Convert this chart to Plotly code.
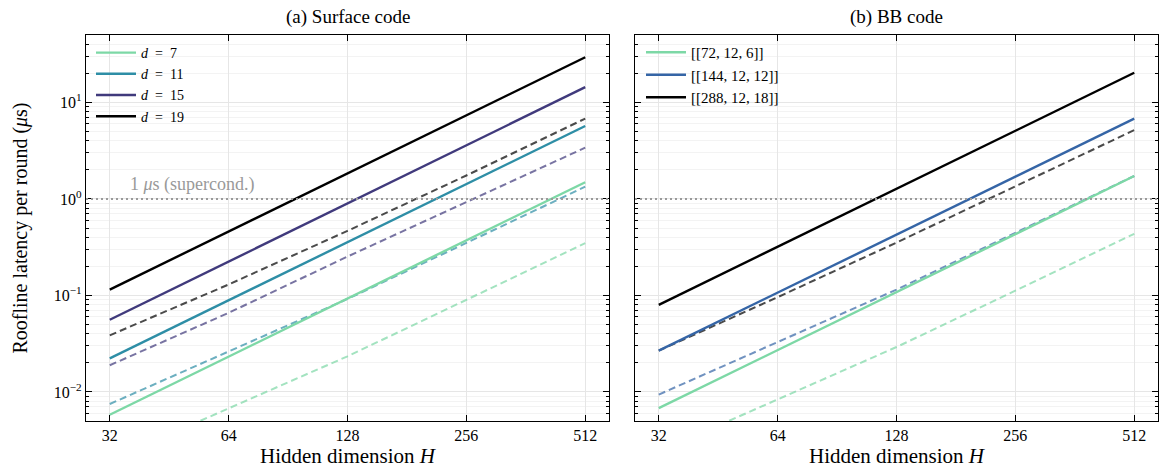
import math
import plotly.graph_objects as go

# ---------------- data ----------------
H = [32, 64, 128, 256, 512]

# (a) Surface code — solid: roofline latency (µs)
sc_labels = ["<i>d</i>\u2002=\u20027", "<i>d</i>\u2002=\u200211",
             "<i>d</i>\u2002=\u200215", "<i>d</i>\u2002=\u200219"]
sc_solid_d7 = [0.0058, 0.0233, 0.093, 0.372, 1.49]
sc_solid_d11 = [0.0223, 0.089, 0.356, 1.42, 5.7]
sc_solid_d15 = [0.056, 0.224, 0.90, 3.6, 14.4]
sc_solid_d19 = [0.115, 0.46, 1.84, 7.36, 29.4]
# dashed companions
sc_dash_d7 = [0.00195, 0.0068, 0.0234, 0.090, 0.348]
sc_dash_d11 = [0.0075, 0.0265, 0.092, 0.35, 1.34]
sc_dash_d15 = [0.0189, 0.066, 0.253, 0.93, 3.4]
sc_dash_d19 = [0.0386, 0.13, 0.467, 1.75, 6.8]

# (b) BB code
bb_labels = ["[[72, 12, 6]]", "[[144, 12, 12]]", "[[288, 12, 18]]"]
bb_solid_72 = [0.0068, 0.027, 0.108, 0.432, 1.73]
bb_solid_144 = [0.0268, 0.107, 0.43, 1.71, 6.8]
bb_solid_288 = [0.080, 0.32, 1.28, 5.1, 20.3]
bb_dash_72 = [0.0024, 0.0083, 0.0292, 0.112, 0.435]
bb_dash_144 = [0.0094, 0.033, 0.115, 0.445, 1.73]
bb_dash_288 = [0.0268, 0.096, 0.353, 1.35, 5.17]

threshold_us = 1.0
threshold_label = "1 <i>μ</i>s (supercond.)"

x_ticks = [32, 64, 128, 256, 512]
y_ticks = [0.01, 0.1, 1, 10]
y_ticktext = ["10<sup>−2</sup>", "10<sup>−1</sup>", "10<sup>0</sup>", "10<sup>1</sup>"]

# ---------------- style ----------------
FONT = "Liberation Serif"
sc_colors = ["#7dd8a6", "#2e8ea6", "#403a7c", "#000000"]
bb_colors = ["#7dd8a6", "#3565a6", "#000000"]
DASH_OPACITY = 0.7

fig = go.Figure()

sc_solid = [sc_solid_d7, sc_solid_d11, sc_solid_d15, sc_solid_d19]
sc_dash = [sc_dash_d7, sc_dash_d11, sc_dash_d15, sc_dash_d19]
for lab, col, ys in zip(sc_labels, sc_colors, sc_dash):
    fig.add_trace(go.Scatter(x=H, y=ys, mode="lines", xaxis="x", yaxis="y",
                             line=dict(color=col, width=2, dash="7px,4px"),
                             opacity=DASH_OPACITY, showlegend=False, hoverinfo="skip"))
for lab, col, ys in zip(sc_labels, sc_colors, sc_solid):
    fig.add_trace(go.Scatter(x=H, y=ys, mode="lines", name=lab, xaxis="x", yaxis="y",
                             line=dict(color=col, width=2.4), legend="legend"))

bb_solid = [bb_solid_72, bb_solid_144, bb_solid_288]
bb_dash = [bb_dash_72, bb_dash_144, bb_dash_288]
for lab, col, ys in zip(bb_labels, bb_colors, bb_dash):
    fig.add_trace(go.Scatter(x=H, y=ys, mode="lines", xaxis="x2", yaxis="y2",
                             line=dict(color=col, width=2, dash="7px,4px"),
                             opacity=DASH_OPACITY, showlegend=False, hoverinfo="skip"))
for lab, col, ys in zip(bb_labels, bb_colors, bb_solid):
    fig.add_trace(go.Scatter(x=H, y=ys, mode="lines", name=lab, xaxis="x2", yaxis="y2",
                             line=dict(color=col, width=2.4), legend="legend2"))

W, HT = 1159, 473
ML, MR, MT, MB = 86, 1, 35, 52
pw = W - ML - MR
ph = HT - MT - MB
d1 = [0, (609 - ML) / pw]
d2 = [(635 - ML) / pw, 1]

pad = 0.05 * (math.log10(x_ticks[-1]) - math.log10(x_ticks[0]))
xrange = [math.log10(x_ticks[0]) - pad, math.log10(x_ticks[-1]) + pad]
yrange = [math.log10(0.005), math.log10(50)]

LABEL_SIZE = 21
TITLE_SIZE = 19
common_x = dict(type="log", range=xrange, tickvals=x_ticks, ticktext=[str(v) for v in x_ticks],
                ticks="inside", ticklen=6, tickwidth=1, tickcolor="black",
                showline=True, linecolor="black", linewidth=1.3, mirror="allticks",
                showgrid=True, gridcolor="#e6e6e6", gridwidth=1, zeroline=False,
                tickfont=dict(family=FONT, size=16, color="black"))
common_y = dict(type="log", range=yrange, tickvals=y_ticks,
                ticks="inside", ticklen=6, tickwidth=1, tickcolor="black",
                showline=True, linecolor="black", linewidth=1.3, mirror="allticks",
                showgrid=True, gridcolor="#e6e6e6", gridwidth=1, zeroline=False,
                tickfont=dict(family=FONT, size=16, color="black"),
                minor=dict(dtick="D1", ticks="inside", ticklen=3, tickcolor="black",
                           showgrid=True, gridcolor="#f3f3f3", gridwidth=1))

xa1 = dict(common_x); xa1.update(domain=d1, anchor="y",
                                 title=dict(text="Hidden dimension <i>H</i>",
                                            font=dict(family=FONT, size=LABEL_SIZE, color="black"), standoff=4))
xa2 = dict(common_x); xa2.update(domain=d2, anchor="y2",
                                 title=dict(text="Hidden dimension <i>H</i>",
                                            font=dict(family=FONT, size=LABEL_SIZE, color="black"), standoff=4))
ya1 = dict(common_y); ya1.update(anchor="x", ticktext=y_ticktext,
                                 title=dict(text="Roofline latency per round (<i>μ</i>s)",
                                            font=dict(family=FONT, size=20, color="black"), standoff=20))
ya2 = dict(common_y); ya2.update(anchor="x2", showticklabels=False)

fig.update_layout(
    width=W, height=HT,
    margin=dict(l=ML, r=MR, t=MT, b=MB),
    paper_bgcolor="white", plot_bgcolor="white",
    font=dict(family=FONT, size=16, color="black"),
    xaxis=xa1, yaxis=ya1, xaxis2=xa2, yaxis2=ya2,
    legend=dict(x=5 / pw, y=1.0 - 2 / ph, xref="paper", yref="paper", xanchor="left", yanchor="top",
                bgcolor="rgba(0,0,0,0)", borderwidth=0, itemwidth=40,
                font=dict(family=FONT, size=14, color="black"), tracegroupgap=0),
    legend2=dict(x=d2[0] + 6 / pw, y=1.0 - 1 / ph, xref="paper", yref="paper", xanchor="left", yanchor="top",
                 bgcolor="rgba(0,0,0,0)", borderwidth=0, itemwidth=40,
                 font=dict(family=FONT, size=15, color="black"), tracegroupgap=0),
    showlegend=True,
)

for xr, yr in (("x domain", "y"), ("x2 domain", "y2")):
    fig.add_shape(type="line", xref=xr, yref=yr, x0=0, x1=1, y0=threshold_us, y1=threshold_us,
                  line=dict(color="#9a9a9a", width=2, dash="2px,3px"), layer="above")

fig.add_annotation(xref="x domain", yref="y", x=(128 - 86) / 523, y=math.log10(threshold_us),
                   xanchor="left", yanchor="bottom", yshift=2, showarrow=False,
                   text=threshold_label, font=dict(family=FONT, size=18, color="#999999"))

fig.add_annotation(xref="paper", yref="paper", x=(d1[0] + d1[1]) / 2, y=1, yshift=5,
                   xanchor="center", yanchor="bottom", showarrow=False,
                   text="(a) Surface code", font=dict(family=FONT, size=TITLE_SIZE, color="black"))
fig.add_annotation(xref="paper", yref="paper", x=(d2[0] + d2[1]) / 2, y=1, yshift=5,
                   xanchor="center", yanchor="bottom", showarrow=False,
                   text="(b) BB code", font=dict(family=FONT, size=TITLE_SIZE, color="black"))

fig.write_html("out.html", config={"displayModeBar": False},
               post_script="document.body.style.margin='0px';document.body.style.overflow='hidden';")
